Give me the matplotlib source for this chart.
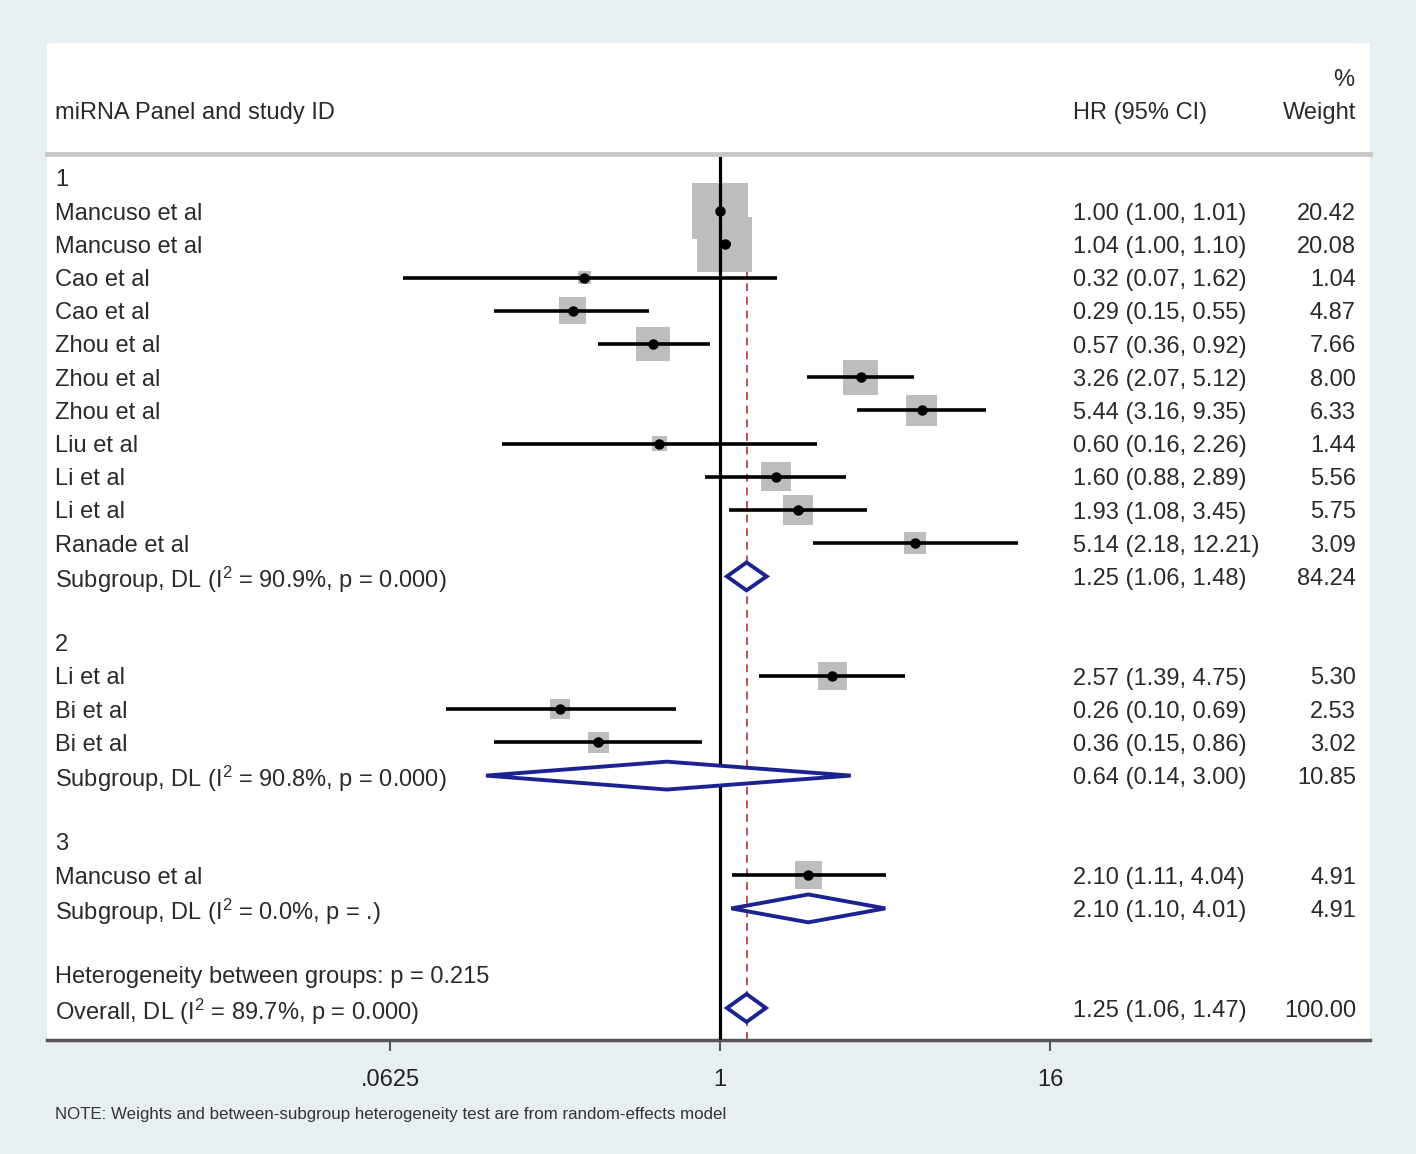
import matplotlib
matplotlib.use("Agg")
import matplotlib.pyplot as plt
import matplotlib.transforms as mtransforms
from matplotlib.patches import Rectangle, Polygon
import numpy as np

plt.rcParams['font.family'] = ['Liberation Sans', 'DejaVu Sans']
plt.rcParams['mathtext.default'] = 'regular'

# ---------------- data ----------------
study_labels = ["Mancuso et al", "Mancuso et al", "Cao et al", "Cao et al",
                "Zhou et al", "Zhou et al", "Zhou et al", "Liu et al",
                "Li et al", "Li et al", "Ranade et al",
                "Li et al", "Bi et al", "Bi et al",
                "Mancuso et al"]
study_group = [1, 1, 1, 1, 1, 1, 1, 1, 1, 1, 1, 2, 2, 2, 3]
study_hr = [1.00, 1.04, 0.32, 0.29, 0.57, 3.26, 5.44, 0.60, 1.60, 1.93, 5.14,
            2.57, 0.26, 0.36, 2.10]
study_lo = [1.00, 1.00, 0.07, 0.15, 0.36, 2.07, 3.16, 0.16, 0.88, 1.08, 2.18,
            1.39, 0.10, 0.15, 1.11]
study_hi = [1.01, 1.10, 1.62, 0.55, 0.92, 5.12, 9.35, 2.26, 2.89, 3.45, 12.21,
            4.75, 0.69, 0.86, 4.04]
study_weight = [20.42, 20.08, 1.04, 4.87, 7.66, 8.00, 6.33, 1.44, 5.56, 5.75, 3.09,
                5.30, 2.53, 3.02, 4.91]

group_names = ["1", "2", "3"]
sub_hr = [1.25, 0.64, 2.10]
sub_lo = [1.06, 0.14, 1.10]
sub_hi = [1.48, 3.00, 4.01]
sub_weight = [84.24, 10.85, 4.91]
sub_i2 = ["90.9%", "90.8%", "0.0%"]
sub_p = ["0.000", "0.000", "."]

overall_hr, overall_lo, overall_hi = 1.25, 1.06, 1.47
overall_weight = 100.00
overall_i2, overall_p = "89.7%", "0.000"
between_p = "0.215"

xtick_vals = [0.0625, 1, 16]
xtick_labels = [".0625", "1", "16"]

# ---------------- layout ----------------
W, H = 1416, 1154
fig = plt.figure(figsize=(W / 100, H / 100), dpi=100)
bg = '#e8eff2'
fig.patch.set_facecolor(bg)

# white panel
fig.patches.append(Rectangle((47 / W, 1 - 1040 / H), (1370 - 47) / W, (1040 - 43) / H,
                             transform=fig.transFigure, facecolor='white',
                             edgecolor='none', zorder=-5))

ax_l, ax_r, ax_t, ax_b = 47, 1370, 153, 1040
ax = fig.add_axes([ax_l / W, 1 - ax_b / H, (ax_r - ax_l) / W, (ax_b - ax_t) / H])
ax.set_facecolor('none')
ax.set_zorder(1)

px_per_log2 = 82.5
x_one = 720
ax.set_xscale('log', base=2)
ax.set_xlim(2 ** ((ax_l - x_one) / px_per_log2), 2 ** ((ax_r - x_one) / px_per_log2))

row0_y, row_h = 178, 33.2
ax.set_ylim((ax_b - row0_y) / row_h, (ax_t - row0_y) / row_h)

for s in ['top', 'left', 'right']:
    ax.spines[s].set_visible(False)
ax.spines['bottom'].set_color('#555555')
ax.spines['bottom'].set_linewidth(2.5)
ax.set_yticks([])
ax.set_xticks(xtick_vals)
ax.set_xticklabels(xtick_labels, fontsize=17, color='#222222')
ax.xaxis.set_minor_locator(matplotlib.ticker.NullLocator())
ax.tick_params(axis='x', length=8, width=1.5, color='#555555', pad=13)

txt_color = '#2a2a2a'
fs = 17
VA = 'center_baseline'
trans_lbl = mtransforms.blended_transform_factory(fig.transFigure, ax.transData)
lab_x = 55 / W
hr_x = 1073 / W
w_x = 1356 / W

# header
fig.text(lab_x, 1 - 111 / H, "miRNA Panel and study ID", fontsize=fs, color=txt_color, va=VA, ha='left')
fig.text(hr_x, 1 - 111 / H, "HR (95% CI)", fontsize=fs, color=txt_color, va=VA, ha='left')
fig.text(1354 / W, 1 - 78 / H, "%", fontsize=fs, color=txt_color, va=VA, ha='right')
fig.text(w_x, 1 - 111 / H, "Weight", fontsize=fs, color=txt_color, va=VA, ha='right')
fig.lines.append(plt.Line2D([47 / W, 1370 / W], [1 - 154 / H, 1 - 154 / H],
                            transform=fig.transFigure, color='#c8c8c8', lw=3.5))

navy = '#1c2390'
box_k = 12.4  # px per sqrt(weight)


def diamond(y, est, lo, hi, h=0.42):
    poly = Polygon([(lo, y), (est, y - h), (hi, y), (est, y + h)], closed=True,
                   facecolor='white', edgecolor=navy, lw=2.8, zorder=4)
    ax.add_patch(poly)


def hr_text(e, l, h):
    return f"{e:.2f} ({l:.2f}, {h:.2f})"


row = 0
study_idx = np.arange(len(study_labels))
for g, gname in enumerate(group_names):
    ax.text(lab_x, row, gname, transform=trans_lbl, fontsize=fs, color=txt_color, va=VA)
    row += 1
    for i in study_idx[np.array(study_group) == g + 1]:
        side_pt = box_k * np.sqrt(study_weight[i]) * 0.72
        ax.scatter([study_hr[i]], [row], marker='s', s=side_pt ** 2, color='#bdbdbd',
                   edgecolors='none', zorder=2)
        ax.plot([study_lo[i], study_hi[i]], [row, row], color='black', lw=2.6, zorder=3,
                solid_capstyle='butt')
        ax.plot([study_hr[i]], [row], marker='o', ms=6.5, color='black', zorder=5)
        ax.text(lab_x, row, study_labels[i], transform=trans_lbl, fontsize=fs, color=txt_color, va=VA)
        ax.text(hr_x, row, hr_text(study_hr[i], study_lo[i], study_hi[i]), transform=trans_lbl,
                fontsize=fs, color=txt_color, va=VA)
        ax.text(w_x, row, f"{study_weight[i]:.2f}", transform=trans_lbl, fontsize=fs,
                color=txt_color, va=VA, ha='right')
        row += 1
    diamond(row, sub_hr[g], sub_lo[g], sub_hi[g])
    ax.text(lab_x, row, f"Subgroup, DL (I$^2$ = {sub_i2[g]}, p = {sub_p[g]})", transform=trans_lbl,
            fontsize=fs, color=txt_color, va=VA)
    ax.text(hr_x, row, hr_text(sub_hr[g], sub_lo[g], sub_hi[g]), transform=trans_lbl,
            fontsize=fs, color=txt_color, va=VA)
    ax.text(w_x, row, f"{sub_weight[g]:.2f}", transform=trans_lbl, fontsize=fs,
            color=txt_color, va=VA, ha='right')
    row += 2

ax.text(lab_x, row, f"Heterogeneity between groups: p = {between_p}", transform=trans_lbl,
        fontsize=fs, color=txt_color, va=VA)
row += 1
diamond(row, overall_hr, overall_lo, overall_hi)
ax.text(lab_x, row, f"Overall, DL (I$^2$ = {overall_i2}, p = {overall_p})", transform=trans_lbl,
        fontsize=fs, color=txt_color, va=VA)
ax.text(hr_x, row, hr_text(overall_hr, overall_lo, overall_hi), transform=trans_lbl,
        fontsize=fs, color=txt_color, va=VA)
ax.text(w_x, row, f"{overall_weight:.2f}", transform=trans_lbl, fontsize=fs,
        color=txt_color, va=VA, ha='right')

# reference lines
ax.axvline(1, color='black', lw=2.3, zorder=3.5)
ax.plot([overall_hr, overall_hr], [0.3, ax.get_ylim()[0]], color='#c0504d', lw=1.4,
        ls=(0, (4, 3)), zorder=1)

fig.text(lab_x, 1 - 1113 / H,
         "NOTE: Weights and between-subgroup heterogeneity test are from random-effects model",
         fontsize=12.2, color='#333333', va=VA, ha='left')

fig.savefig("out.png", dpi=100, facecolor=bg)
